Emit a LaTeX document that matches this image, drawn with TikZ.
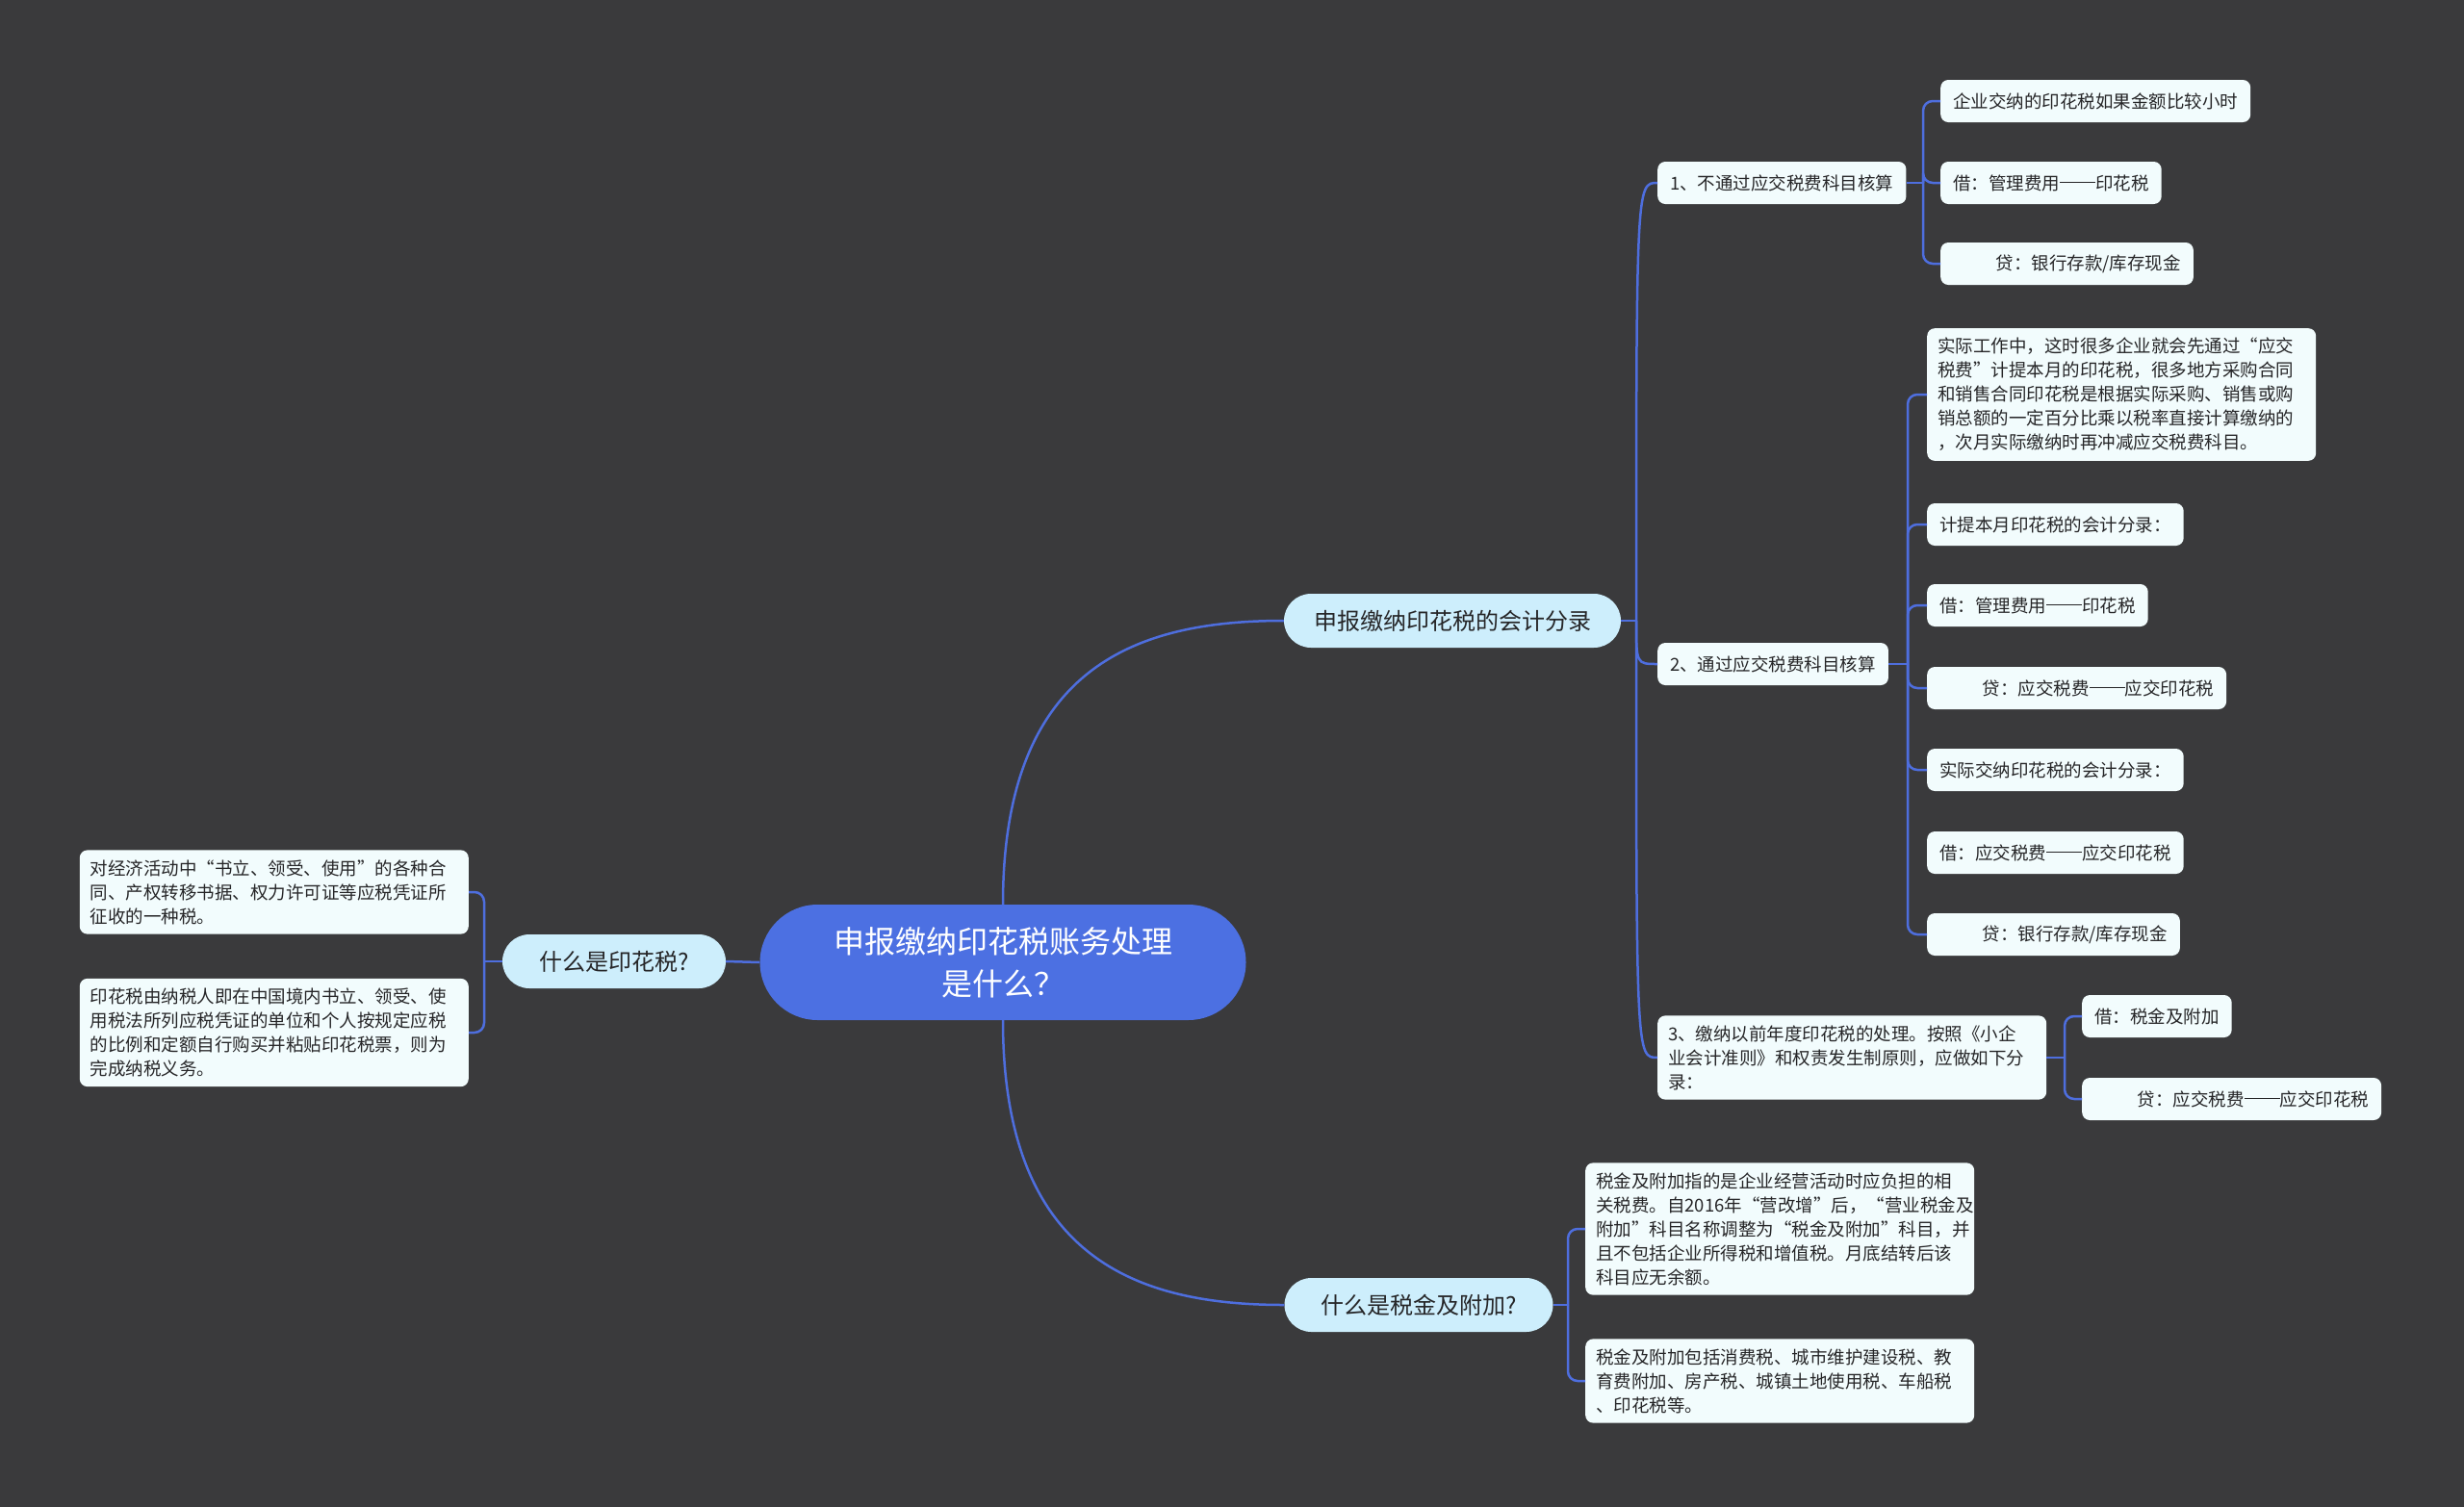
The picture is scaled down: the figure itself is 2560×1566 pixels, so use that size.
\documentclass[tikz,border=0pt]{standalone}
\usepackage{fontspec}
\setmainfont{Noto Sans CJK SC}
\usetikzlibrary{calc}
\definecolor{bgcol}{RGB}{58,58,60}
\definecolor{linkcol}{RGB}{78,110,222}
\definecolor{rootcol}{RGB}{76,112,226}
\definecolor{maincol}{RGB}{205,238,252}
\definecolor{leafcol}{RGB}{242,252,253}
\definecolor{inkcol}{RGB}{38,38,40}
\tikzset{
  rootnode/.style={fill=rootcol,text=white,rounded corners=60pt,minimum width=505pt,minimum height=120pt,align=center,font=\fontsize{32}{44}\selectfont},
  mainnode/.style={fill=maincol,text=inkcol,rounded corners=28pt,minimum height=56pt,inner xsep=31pt,font=\fontsize{24}{30}\selectfont},
  leaf/.style={fill=leafcol,text=inkcol,rounded corners=8pt,minimum height=44pt,inner xsep=13pt,inner ysep=10pt,anchor=west,align=left,font=\fontsize{18.5}{25}\selectfont},
  longleaf/.style={leaf,inner xsep=11pt,text width=382pt},
  link/.style={draw=linkcol,line width=2.5pt},
  bracket/.style={link,rounded corners=10pt}
}
\newcommand{\leadgap}{\hspace*{2.4em}}
\newcommand{\dashbar}{\rule[.36em]{2em}{.06em}}
\begin{document}
\begin{tikzpicture}[x=1pt,y=-1pt]
\useasboundingbox(0,0)rectangle(2560,1566);
\fill[bgcol](0,0)rectangle(2560,1566);
% centre and main topics
\node[rootnode](root)at(1042,1000){申报缴纳印花税账务处理\\是什么？};
\node[mainnode](entry)at(1509,645){申报缴纳印花税的会计分录};
\node[mainnode,minimum width=279pt](surtax)at(1474,1356){什么是税金及附加?};
\node[mainnode,minimum width=232pt](stamp)at(638,999){什么是印花税?};
% entry branch
\node[leaf](e1)at(1722,190){1、不通过应交税费科目核算};
\node[leaf](e2)at(1722,690){2、通过应交税费科目核算};
\node[longleaf](e3)at(1722,1099){3、缴纳以前年度印花税的处理。按照《小企\\业会计准则》和权责发生制原则，应做如下分\\录：};
\node[leaf](e1a)at(2016,105){企业交纳的印花税如果金额比较小时};
\node[leaf](e1b)at(2016,190){借：管理费用\dashbar 印花税};
\node[leaf](e1c)at(2016,274){\leadgap 贷：银行存款/库存现金};
\node[longleaf](e2a)at(2002,410){实际工作中，这时很多企业就会先通过“应交\\税费”计提本月的印花税，很多地方采购合同\\和销售合同印花税是根据实际采购、销售或购\\销总额的一定百分比乘以税率直接计算缴纳的\\，次月实际缴纳时再冲减应交税费科目。};
\node[leaf](e2b)at(2002,545){计提本月印花税的会计分录：};
\node[leaf](e2c)at(2002,629){借：管理费用\dashbar 印花税};
\node[leaf](e2d)at(2002,715){\leadgap 贷：应交税费\dashbar 应交印花税};
\node[leaf](e2e)at(2002,800){实际交纳印花税的会计分录：};
\node[leaf](e2f)at(2002,886){借：应交税费\dashbar 应交印花税};
\node[leaf](e2g)at(2002,971){\leadgap 贷：银行存款/库存现金};
\node[leaf](e3a)at(2163,1056){借：税金及附加};
\node[leaf](e3b)at(2163,1142){\leadgap 贷：应交税费\dashbar 应交印花税};
% surtax branch
\node[longleaf](s1)at(1647,1277){税金及附加指的是企业经营活动时应负担的相\\关税费。自2016年“营改增”后，“营业税金及\\附加”科目名称调整为“税金及附加”科目，并\\且不包括企业所得税和增值税。月底结转后该\\科目应无余额。};
\node[longleaf](s2)at(1647,1435){税金及附加包括消费税、城市维护建设税、教\\育费附加、房产税、城镇土地使用税、车船税\\、印花税等。};
% stamp branch
\node[longleaf,anchor=east](t1)at(487,927){对经济活动中“书立、领受、使用”的各种合\\同、产权转移书据、权力许可证等应税凭证所\\征收的一种税。};
\node[longleaf,anchor=east](t2)at(487,1073){印花税由纳税人即在中国境内书立、领受、使\\用税法所列应税凭证的单位和个人按规定应税\\的比例和定额自行购买并粘贴印花税票，则为\\完成纳税义务。};
% connectors
\draw[link](root.west)--(stamp.east);
\draw[link](root.north)..controls +(0,-250) and +(-150,0)..(entry.west);
\draw[link](root.south)..controls +(0,250) and +(-150,0)..(surtax.west);
\coordinate(ef)at(1700,645);
\draw[link](entry.east)--(ef);
\foreach \c in {e1,e2,e3}\draw[link](ef)..controls(ef|-\c.west)..(\c.west);
\coordinate(e1f)at(1998,190);
\draw[link](e1.east)--(e1f);
\foreach \c in {e1a,e1b,e1c}\draw[bracket](e1f)|-(\c.west);
\coordinate(e2f)at(1982,690);
\draw[link](e2.east)--(e2f);
\foreach \c in {e2a,e2b,e2c,e2d,e2e,e2f,e2g}\draw[bracket](e2f)|-(\c.west);
\coordinate(e3f)at(2145,1099);
\draw[link](e3.east)--(e3f);
\foreach \c in {e3a,e3b}\draw[bracket](e3f)|-(\c.west);
\coordinate(sf)at(1629,1356);
\draw[link](surtax.east)--(sf);
\foreach \c in {s1,s2}\draw[bracket](sf)|-(\c.west);
\coordinate(tf)at(503,999);
\draw[link](stamp.west)--(tf);
\foreach \c in {t1,t2}\draw[bracket](tf)|-(\c.east);
\end{tikzpicture}
\end{document}
